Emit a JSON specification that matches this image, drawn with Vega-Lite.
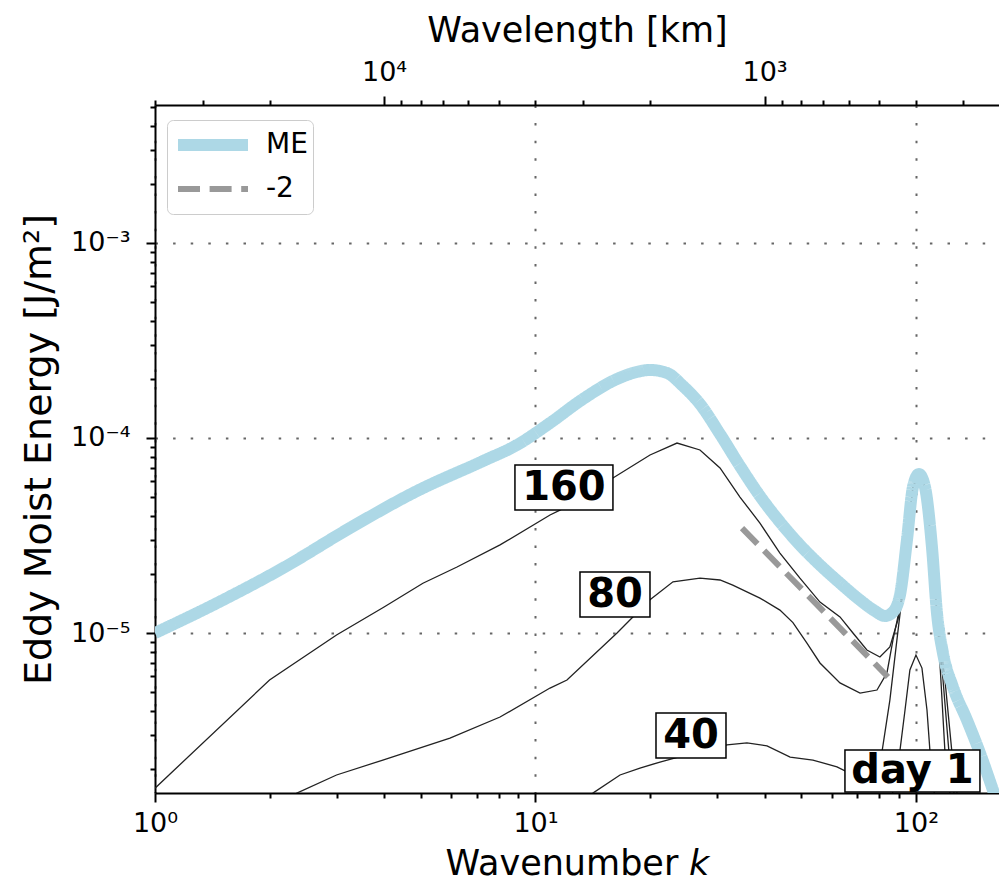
{
  "$schema": "https://vega.github.io/schema/vega-lite/v6.json",
  "width": 844,
  "height": 688,
  "autosize": {"type": "none"},
  "padding": {"left": 155, "top": 105, "right": 0, "bottom": 94},
  "background": "white",
  "config": {
    "font": "DejaVu Sans",
    "view": {"stroke": null},
    "axis": {
      "domainColor": "black", "domainWidth": 2, "tickColor": "black", "tickWidth": 2,
      "labelColor": "black", "titleColor": "black", "titleFontWeight": "normal",
      "labelFontSize": 27, "titleFontSize": 35, "labelFont": "DejaVu Sans", "titleFont": "DejaVu Sans",
      "labelOverlap": false, "labelBound": false, "labelFlush": false, "tickSize": 9
    },
    "legend": {"labelFont": "DejaVu Sans", "labelColor": "black"}
  },
  "datasets": {
    "days": [
      {"day": "160", "k": 1, "E": 1.6e-6}, {"day": "160", "k": 2, "E": 5.74e-6}, {"day": "160", "k": 3, "E": 9.77e-6},
      {"day": "160", "k": 4, "E": 1.36e-5}, {"day": "160", "k": 5.06, "E": 1.8e-5}, {"day": "160", "k": 6.22, "E": 2.18e-5},
      {"day": "160", "k": 8.07, "E": 2.83e-5}, {"day": "160", "k": 10.92, "E": 4.03e-5}, {"day": "160", "k": 11.6, "E": 4.27e-5},
      {"day": "160", "k": 15.98, "E": 6.24e-5}, {"day": "160", "k": 20.0, "E": 8.18e-5}, {"day": "160", "k": 23.55, "E": 9.42e-5},
      {"day": "160", "k": 27.06, "E": 8.68e-5}, {"day": "160", "k": 30.55, "E": 7.02e-5}, {"day": "160", "k": 34.47, "E": 4.98e-5},
      {"day": "160", "k": 38.9, "E": 3.66e-5}, {"day": "160", "k": 43.9, "E": 2.57e-5}, {"day": "160", "k": 49.55, "E": 1.91e-5},
      {"day": "160", "k": 55.94, "E": 1.44e-5}, {"day": "160", "k": 63.14, "E": 1.21e-5}, {"day": "160", "k": 68.3, "E": 1.0e-5},
      {"day": "160", "k": 74.3, "E": 8.18e-6}, {"day": "160", "k": 80.4, "E": 7.53e-6}, {"day": "160", "k": 85.4, "E": 8.48e-6},
      {"day": "160", "k": 89.7, "E": 1.17e-5}, {"day": "160", "k": 92.4, "E": 1.6e-5}, {"day": "160", "k": 94.709, "E": 2.9985e-5},
      {"day": "160", "k": 98.207, "E": 5.6074e-5}, {"day": "160", "k": 101.83, "E": 6.5359e-5}, {"day": "160", "k": 105.6, "E": 5.6074e-5},
      {"day": "160", "k": 110.17, "E": 2.7612e-5}, {"day": "160", "k": 113.57, "E": 1.2662e-5}, {"day": "160", "k": 119.2, "E": 5.74e-6},
      {"day": "160", "k": 124.3, "E": 2.45e-6}, {"day": "160", "k": 128.2, "E": 1.51e-6}, {"day": "160", "k": 132, "E": 1.1e-6},

      {"day": "80", "k": 2.0, "E": 1.25e-6}, {"day": "80", "k": 2.36, "E": 1.51e-6}, {"day": "80", "k": 3.0, "E": 1.87e-6},
      {"day": "80", "k": 3.97, "E": 2.23e-6}, {"day": "80", "k": 5.96, "E": 2.89e-6}, {"day": "80", "k": 8.07, "E": 3.71e-6},
      {"day": "80", "k": 10.92, "E": 5.22e-6}, {"day": "80", "k": 12.1, "E": 5.74e-6}, {"day": "80", "k": 16.38, "E": 1.0e-5},
      {"day": "80", "k": 20.0, "E": 1.48e-5}, {"day": "80", "k": 22.98, "E": 1.83e-5}, {"day": "80", "k": 27.06, "E": 1.91e-5},
      {"day": "80", "k": 30.55, "E": 1.87e-5}, {"day": "80", "k": 33.0, "E": 1.76e-5}, {"day": "80", "k": 38.9, "E": 1.51e-5},
      {"day": "80", "k": 43.9, "E": 1.31e-5}, {"day": "80", "k": 47.5, "E": 1.13e-5}, {"day": "80", "k": 51.7, "E": 8.88e-6},
      {"day": "80", "k": 55.94, "E": 7.02e-6}, {"day": "80", "k": 63.14, "E": 5.55e-6}, {"day": "80", "k": 71.3, "E": 4.92e-6},
      {"day": "80", "k": 79.0, "E": 5.1e-6}, {"day": "80", "k": 83.9, "E": 6.24e-6}, {"day": "80", "k": 87.0, "E": 9.2e-6},
      {"day": "80", "k": 90.8, "E": 1.36e-5}, {"day": "80", "k": 94.709, "E": 2.9985e-5},
      {"day": "80", "k": 98.207, "E": 5.6074e-5}, {"day": "80", "k": 101.83, "E": 6.5359e-5}, {"day": "80", "k": 105.6, "E": 5.6074e-5},
      {"day": "80", "k": 110.17, "E": 2.7612e-5}, {"day": "80", "k": 113.57, "E": 1.2662e-5}, {"day": "80", "k": 117.8, "E": 5.74e-6},
      {"day": "80", "k": 122.1, "E": 2.45e-6}, {"day": "80", "k": 125.9, "E": 1.51e-6}, {"day": "80", "k": 129, "E": 1.15e-6},

      {"day": "40", "k": 13.5, "E": 1.35e-6}, {"day": "40", "k": 14.16, "E": 1.51e-6}, {"day": "40", "k": 16.68, "E": 1.87e-6},
      {"day": "40", "k": 18.82, "E": 2.03e-6}, {"day": "40", "k": 21.24, "E": 2.18e-6}, {"day": "40", "k": 25.47, "E": 2.4e-6},
      {"day": "40", "k": 31.87, "E": 2.67e-6}, {"day": "40", "k": 35.96, "E": 2.73e-6}, {"day": "40", "k": 40.6, "E": 2.64e-6},
      {"day": "40", "k": 46.7, "E": 2.31e-6}, {"day": "40", "k": 53.6, "E": 2.23e-6}, {"day": "40", "k": 62.0, "E": 2.06e-6},
      {"day": "40", "k": 65.9, "E": 1.94e-6}, {"day": "40", "k": 73.4, "E": 1.8e-6}, {"day": "40", "k": 79.4, "E": 1.98e-6},
      {"day": "40", "k": 81.4, "E": 2.45e-6}, {"day": "40", "k": 85.4, "E": 4.53e-6}, {"day": "40", "k": 89.1, "E": 9.2e-6},
      {"day": "40", "k": 92.4, "E": 1.66e-5}, {"day": "40", "k": 94.709, "E": 2.9985e-5},
      {"day": "40", "k": 98.207, "E": 5.6074e-5}, {"day": "40", "k": 101.83, "E": 6.5359e-5}, {"day": "40", "k": 105.6, "E": 5.6074e-5},
      {"day": "40", "k": 110.17, "E": 2.7612e-5}, {"day": "40", "k": 113.57, "E": 1.2662e-5}, {"day": "40", "k": 116.3, "E": 5.74e-6},
      {"day": "40", "k": 119.2, "E": 2.45e-6}, {"day": "40", "k": 122.8, "E": 1.51e-6}, {"day": "40", "k": 125, "E": 1.2e-6},

      {"day": "1", "k": 85.4, "E": 1.24e-6}, {"day": "1", "k": 89.7, "E": 2.23e-6}, {"day": "1", "k": 90.8, "E": 2.51e-6},
      {"day": "1", "k": 93.6, "E": 4.03e-6}, {"day": "1", "k": 96.4, "E": 6.46e-6}, {"day": "1", "k": 100, "E": 7.71e-6},
      {"day": "1", "k": 103.7, "E": 6.61e-6}, {"day": "1", "k": 106.9, "E": 4.03e-6}, {"day": "1", "k": 108.8, "E": 2.51e-6},
      {"day": "1", "k": 110.8, "E": 1.76e-6}, {"day": "1", "k": 112.9, "E": 1.24e-6}
    ],
    "series": [
      {"series": "ME", "k": 1.0, "E": 1.0e-5}, {"series": "ME", "k": 1.4555, "E": 1.4251e-5}, {"series": "ME", "k": 2.1699, "E": 2.1544e-5},
      {"series": "ME", "k": 3.2543, "E": 3.4551e-5}, {"series": "ME", "k": 4.8823, "E": 5.3485e-5}, {"series": "ME", "k": 7.2784, "E": 7.6208e-5},
      {"series": "ME", "k": 8.9399, "E": 9.2078e-5}, {"series": "ME", "k": 10.917, "E": 1.1938e-4}, {"series": "ME", "k": 13.331, "E": 1.5849e-4},
      {"series": "ME", "k": 16.378, "E": 2.0069e-4}, {"series": "ME", "k": 18.04, "E": 2.1544e-4}, {"series": "ME", "k": 19.996, "E": 2.2324e-4},
      {"series": "ME", "k": 22.163, "E": 2.1544e-4}, {"series": "ME", "k": 24.419, "E": 1.8478e-4}, {"series": "ME", "k": 27.06, "E": 1.4937e-4},
      {"series": "ME", "k": 30.541, "E": 1.0484e-4}, {"series": "ME", "k": 34.47, "E": 7.1846e-5}, {"series": "ME", "k": 38.905, "E": 5.0414e-5},
      {"series": "ME", "k": 43.912, "E": 3.7089e-5}, {"series": "ME", "k": 49.563, "E": 2.8272e-5}, {"series": "ME", "k": 55.937, "E": 2.2325e-5},
      {"series": "ME", "k": 63.133, "E": 1.8047e-5}, {"series": "ME", "k": 71.253, "E": 1.4765e-5}, {"series": "ME", "k": 78.04, "E": 1.2965e-5},
      {"series": "ME", "k": 82.892, "E": 1.2222e-5}, {"series": "ME", "k": 87.002, "E": 1.2812e-5}, {"series": "ME", "k": 90.775, "E": 1.5661e-5},
      {"series": "ME", "k": 94.709, "E": 2.9985e-5}, {"series": "ME", "k": 98.207, "E": 5.6074e-5}, {"series": "ME", "k": 101.83, "E": 6.5359e-5},
      {"series": "ME", "k": 105.6, "E": 5.6074e-5}, {"series": "ME", "k": 110.17, "E": 2.7612e-5}, {"series": "ME", "k": 113.57, "E": 1.2662e-5},
      {"series": "ME", "k": 117.76, "E": 7.897e-6}, {"series": "ME", "k": 125.1, "E": 5.285e-6}, {"series": "ME", "k": 136.16, "E": 3.5801e-6},
      {"series": "ME", "k": 147.32, "E": 2.4245e-6}, {"series": "ME", "k": 159.35, "E": 1.5661e-6}, {"series": "ME", "k": 176.6, "E": 8.68e-7},
      {"series": "-2", "k": 34.9, "E": 3.45e-5}, {"series": "-2", "k": 84.4, "E": 5.95e-6}
    ],
    "labels": [
      {"label": "160", "k": 11.88, "E": 5.57e-5},
      {"label": "80", "k": 16.18, "E": 1.575e-5},
      {"label": "40", "k": 25.63, "E": 2.98e-6},
      {"label": "day 1", "k": 97.9, "E": 1.96e-6}
    ],
    "wl": [{"wl": 40000}, {"wl": 242}]
  },
  "layer": [
    {
      "encoding": {
        "x": {
          "field": "k", "type": "quantitative",
          "scale": {"type": "log", "domain": [1, 165.3]},
          "axis": {
            "orient": "bottom",
            "title": "Wavenumber 𝘬",
            "values": [1, 2, 3, 4, 5, 6, 7, 8, 9, 10, 20, 30, 40, 50, 60, 70, 80, 90, 100],
            "labelExpr": "datum.value == 1 ? '10⁰' : datum.value == 10 ? '10¹' : datum.value == 100 ? '10²' : ''",
            "grid": true, "gridColor": "#666666", "gridWidth": 2, "gridDash": [2.5, 15.1],
            "gridOpacity": {"condition": {"test": "abs(log(datum.value)/LN10 - round(log(datum.value)/LN10)) > 0.01", "value": 0}, "value": 1},
            "tickDash": {"condition": {"test": "abs(log(datum.value)/LN10 - round(log(datum.value)/LN10)) > 0.01", "value": [5, 20]}, "value": [20, 0]},
            "labelPadding": 8, "titlePadding": 10
          }
        },
        "y": {
          "field": "E", "type": "quantitative",
          "scale": {"type": "log", "domain": [1.512e-6, 5.10e-3]},
          "axis": {
            "title": "Eddy Moist Energy [J/m²]", "titleFontSize": 38,
            "values": [2e-6, 3e-6, 4e-6, 5e-6, 6e-6, 7e-6, 8e-6, 9e-6, 1e-5, 2e-5, 3e-5, 4e-5, 5e-5, 6e-5, 7e-5, 8e-5, 9e-5, 1e-4, 2e-4, 3e-4, 4e-4, 5e-4, 6e-4, 7e-4, 8e-4, 9e-4, 1e-3, 2e-3, 3e-3, 4e-3, 5e-3],
            "labelExpr": "datum.value == 0.001 ? '10⁻³' : datum.value == 0.0001 ? '10⁻⁴' : datum.value == 0.00001 ? '10⁻⁵' : ''",
            "grid": true, "gridColor": "#666666", "gridWidth": 2, "gridDash": [2.5, 15.1],
            "gridOpacity": {"condition": {"test": "abs(log(datum.value)/LN10 - round(log(datum.value)/LN10)) > 0.01", "value": 0}, "value": 1},
            "tickDash": {"condition": {"test": "abs(log(datum.value)/LN10 - round(log(datum.value)/LN10)) > 0.01", "value": [5, 20]}, "value": [20, 0]},
            "labelPadding": 16, "titlePadding": 12
          }
        }
      },
      "layer": [
        {
          "data": {"name": "days"},
          "mark": {"type": "line", "clip": true, "color": "#222222", "strokeWidth": 1.3},
          "encoding": {"detail": {"field": "day", "type": "nominal"}}
        },
        {
          "data": {"name": "series"},
          "mark": {"type": "line", "clip": true, "interpolate": "monotone"},
          "encoding": {
            "color": {
              "field": "series", "type": "nominal",
              "scale": {"domain": ["ME", "-2"], "range": ["#add8e6", "#999999"]},
              "legend": {
                "orient": "none", "legendX": 12, "legendY": 15, "title": null,
                "symbolType": "stroke", "symbolSize": 4900, "clipHeight": 40, "rowPadding": 4,
                "labelFontSize": 28, "labelOffset": 12, "padding": 5,
                "labelExpr": "datum.label + '\u00a0\u00a0'",
                "strokeColor": "#cccccc", "fillColor": "white", "cornerRadius": 6
              }
            },
            "strokeDash": {
              "field": "series", "type": "nominal",
              "scale": {"domain": ["ME", "-2"], "range": [[1, 0], [22, 9.6]]}
            },
            "strokeWidth": {
              "field": "series", "type": "ordinal",
              "scale": {"domain": ["ME", "-2"], "range": [12, 6]}
            }
          }
        },
        {
          "data": {"name": "labels"},
          "mark": {"type": "point", "filled": true, "fill": "white", "stroke": "black", "strokeWidth": 1.5, "opacity": 1, "size": 10000},
          "encoding": {
            "shape": {
              "field": "label", "type": "nominal", "legend": null,
              "scale": {
                "domain": ["160", "80", "40", "day 1"],
                "range": ["M-0.98,-0.45H0.98V0.45H-0.98Z", "M-0.7,-0.45H0.7V0.45H-0.7Z", "M-0.7,-0.45H0.7V0.45H-0.7Z", "M-1.35,-0.42H1.35V0.42H-1.35Z"]
              }
            }
          }
        },
        {
          "data": {"name": "labels"},
          "mark": {"type": "text", "fontSize": 40, "fontWeight": "bold", "align": "center", "baseline": "middle", "color": "black"},
          "encoding": {"text": {"field": "label", "type": "nominal"}}
        }
      ]
    },
    {
      "data": {"name": "wl"},
      "mark": {"type": "rule", "opacity": 0},
      "encoding": {
        "x": {
          "field": "wl", "type": "quantitative",
          "scale": {"type": "log", "domain": [242, 40000], "reverse": true},
          "axis": {
            "orient": "top",
            "title": "Wavelength [km]",
            "values": [40000, 30000, 20000, 10000, 9000, 8000, 7000, 6000, 5000, 4000, 3000, 2000, 1000, 900, 800, 700, 600, 500, 400, 300],
            "labelExpr": "datum.value == 10000 ? '10⁴' : datum.value == 1000 ? '10³' : ''",
            "grid": false,
            "tickDash": {"condition": {"test": "abs(log(datum.value)/LN10 - round(log(datum.value)/LN10)) > 0.01", "value": [5, 20]}, "value": [20, 0]},
            "labelPadding": 10, "titlePadding": 10
          }
        }
      }
    }
  ],
  "resolve": {"scale": {"x": "independent"}, "axis": {"x": "independent"}}
}
